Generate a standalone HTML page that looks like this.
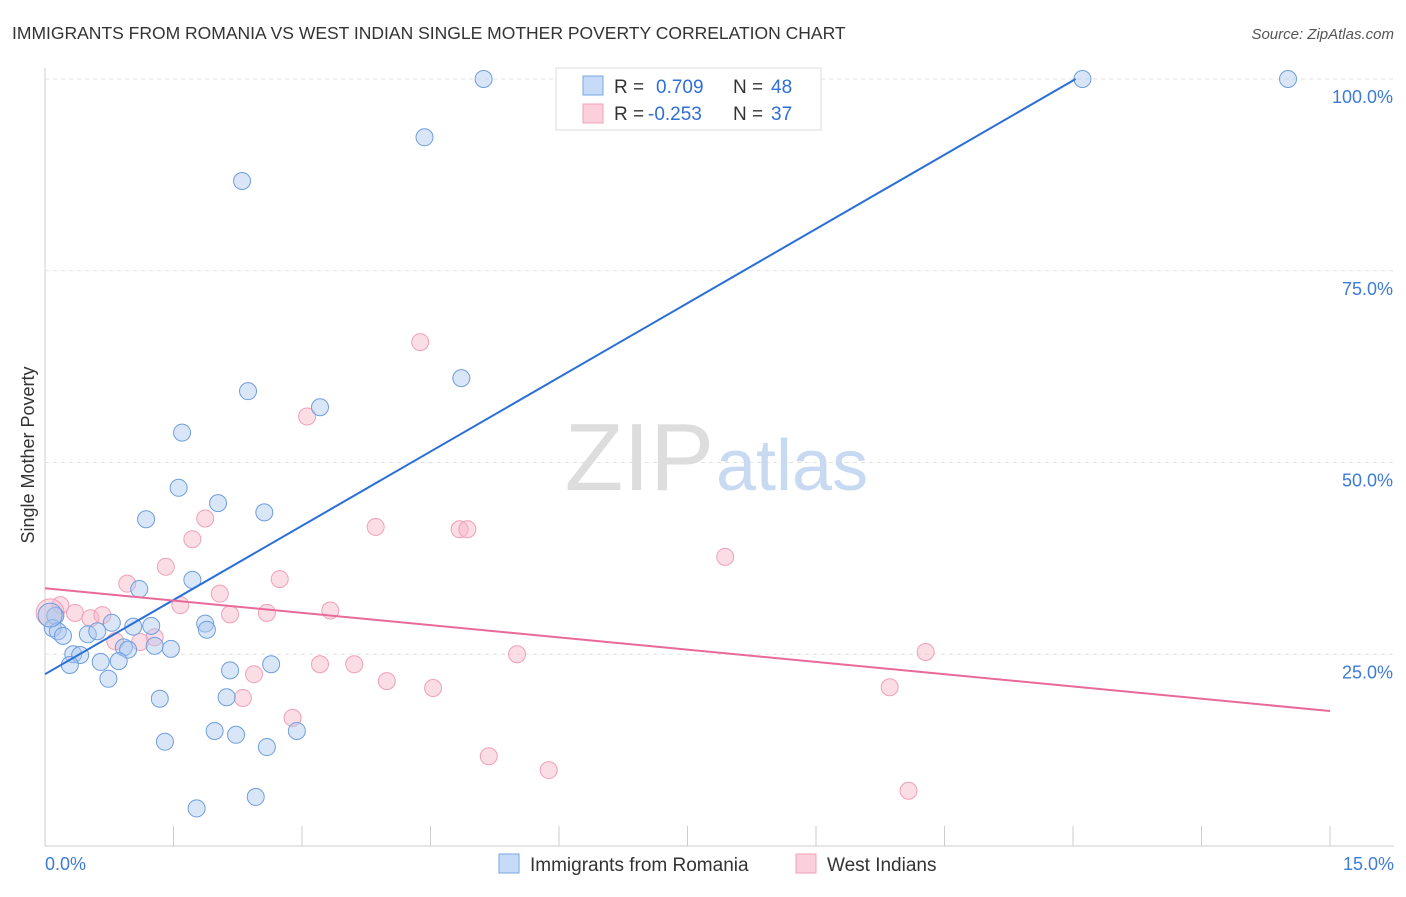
<!DOCTYPE html>
<html><head><meta charset="utf-8">
<style>
body{margin:0;background:#fff;font-family:"Liberation Sans",sans-serif;}
svg text{font-family:"Liberation Sans",sans-serif;}
</style></head>
<body>
<svg id="chart" width="1406" height="892" xmlns="http://www.w3.org/2000/svg">
<text x="12" y="39" font-size="17.5" fill="#333">IMMIGRANTS FROM ROMANIA VS WEST INDIAN SINGLE MOTHER POVERTY CORRELATION CHART</text>
<text x="1394" y="39" font-size="15" fill="#555" font-style="italic" text-anchor="end">Source: ZipAtlas.com</text>
<text x="34" y="455" font-size="18" fill="#333" transform="rotate(-90 34 455)" text-anchor="middle">Single Mother Poverty</text>
<g id="grid"></g>
<text x="714" y="490" font-size="96" fill="#ddd" text-anchor="end" font-family="Liberation Serif">ZIP</text>
<text x="716" y="490" font-size="72" fill="#c8daf2">atlas</text>
<g id="marks"></g>
<g id="lines"></g>
<g>
<rect x="556" y="68" width="265" height="62" fill="#fff" stroke="#ddd"/>
<rect x="583" y="76" width="20" height="19" fill="#c5dbf7" stroke="#7aa7e0"/>
<rect x="583" y="104" width="20" height="19" fill="#fbd0dc" stroke="#f0a0b8"/>
<text x="614" y="93" font-size="19" fill="#333">R =</text>
<text x="656" y="93" font-size="19" fill="#2f6fd6">0.709</text>
<text x="733" y="93" font-size="19" fill="#333">N =</text>
<text x="771" y="93" font-size="19" fill="#2f6fd6">48</text>
<text x="614" y="120" font-size="19" fill="#333">R =</text>
<text x="648" y="120" font-size="19" fill="#2f6fd6">-0.253</text>
<text x="733" y="120" font-size="19" fill="#333">N =</text>
<text x="771" y="120" font-size="19" fill="#2f6fd6">37</text>
</g>
<g>
<rect x="499" y="854" width="20" height="19" fill="#c5dbf7" stroke="#7aa7e0"/>
<text x="530" y="871" font-size="19" fill="#333">Immigrants from Romania</text>
<rect x="796" y="854" width="20" height="19" fill="#fbd0dc" stroke="#f0a0b8"/>
<text x="827" y="871" font-size="19" fill="#333">West Indians</text>
</g>
<text x="45" y="870" font-size="18" fill="#3d7bd8">0.0%</text>
<text x="1394" y="870" font-size="18" fill="#3d7bd8" text-anchor="end">15.0%</text>
</svg>
<script>
const yTicks=[25,50,75,100];
const yTickLabels=["25.0%","50.0%","75.0%","100.0%"];
const xTicks=[0,1.5,3,4.5,6,7.5,9,10.5,12,13.5,15];
const blueX=[5.12,12.11,14.51,4.43,2.30,4.86,2.37,3.21,1.60,1.56,2.02,1.18,2.56,1.72,1.10,0.12,0.09,0.15,0.21,0.50,0.61,0.78,1.24,1.03,1.87,1.89,0.92,0.97,1.28,1.47,0.33,0.41,0.29,0.65,0.86,2.16,2.64,0.74,1.34,2.12,1.98,2.23,2.94,1.40,2.59,1.77,2.46,0.06];
const blueY=[100,100,100,92.4,86.7,61.0,59.3,57.2,53.9,46.7,44.7,42.6,43.5,34.7,33.5,30.0,28.4,28.0,27.4,27.6,28.0,29.1,28.7,28.6,29.0,28.2,25.9,25.6,26.1,25.7,25.0,24.9,23.6,24.0,24.1,22.9,23.7,21.8,19.2,19.4,15.0,14.5,15.0,13.6,12.9,4.9,6.4,30.1];
const pinkX=[4.38,3.06,3.86,4.84,4.93,1.87,1.72,1.41,2.74,0.96,2.04,1.58,7.94,3.33,2.59,2.16,0.18,0.35,0.53,0.67,0.06,1.28,1.11,0.82,3.21,3.61,2.44,3.99,4.53,5.51,10.28,9.86,2.31,2.89,5.18,5.88,10.08];
const pinkY=[65.7,56.0,41.6,41.3,41.3,42.7,40.0,36.4,34.8,34.2,32.9,31.4,37.7,30.7,30.4,30.2,31.4,30.4,29.7,30.1,30.4,27.2,26.6,26.7,23.7,23.7,22.4,21.5,20.6,25.0,25.3,20.7,19.3,16.7,11.7,9.9,7.2];
const blueLine=[22.4,6.45];
const pinkLine=[33.6,-1.067];
const X=v=>45+v/15*1285, Y=v=>846-v/100*767;
const NS="http://www.w3.org/2000/svg";
function mk(t,a,p){const e=document.createElementNS(NS,t);for(const k in a)e.setAttribute(k,a[k]);p.appendChild(e);return e;}
const grid=document.getElementById('grid');
mk('line',{x1:45,y1:846,x2:1394,y2:846,stroke:'#ccc'},grid);
mk('line',{x1:45,y1:68,x2:45,y2:846,stroke:'#ccc'},grid);
xTicks.forEach(t=>{const l=mk('line',{x1:X(t),y1:846,x2:X(t),y2:826,stroke:'#ccc'},grid);

});
yTicks.forEach((t,i)=>{const l=mk('line',{x1:45,y1:Y(t),x2:1394,y2:Y(t),stroke:'#e2e2e2','stroke-dasharray':'4 4'},grid);


const tx=mk('text',{x:1393,y:Y(t)+24,'font-size':18,fill:'#3d7bd8','text-anchor':'end'},grid);tx.textContent=yTickLabels[i];

});
const marks=document.getElementById('marks');
pinkX.forEach((x,i)=>{const c=mk('circle',{cx:X(x),cy:Y(pinkY[i]),r:i==20?14:8.5,fill:'rgba(247,180,200,0.45)',stroke:'#f0a0b8','stroke-width':1},marks);

});
blueX.forEach((x,i)=>{const c=mk('circle',{cx:X(x),cy:Y(blueY[i]),r:i==47?12:8.5,fill:'rgba(170,200,240,0.45)',stroke:'#6f9edc','stroke-width':1},marks);

});
const lines=document.getElementById('lines');
const bx2=(100-blueLine[0])/blueLine[1];
const bl=mk('line',{x1:X(0),y1:Y(blueLine[0]),x2:X(bx2),y2:Y(100),stroke:'#2a6fd6','stroke-width':2},lines);


const pl=mk('line',{x1:X(0),y1:Y(pinkLine[0]),x2:X(15),y2:Y(pinkLine[0]+15*pinkLine[1]),stroke:'#e8699a','stroke-width':2},lines);


</script>
</body></html>
